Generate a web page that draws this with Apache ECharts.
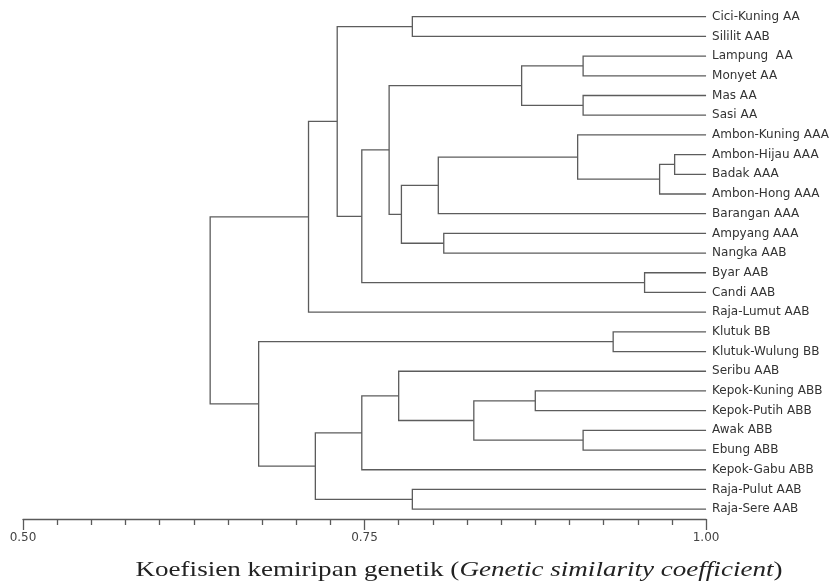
<!DOCTYPE html>
<html>
<head>
<meta charset="utf-8">
<script src="https://cdn.jsdelivr.net/npm/echarts@6/dist/echarts.min.js"></script>
<style>
html, body { margin: 0; background: #fff; }
#main { width: 832px; height: 588px; }
</style>
</head>
<body>
<div id="main"></div>
<script>
// leaf names, top to bottom
var leaves = [
	"Cici-Kuning AA", "Sililit AAB", "Lampung  AA", "Monyet AA", "Mas AA", "Sasi AA",
	"Ambon-Kuning AAA", "Ambon-Hijau AAA", "Badak AAA", "Ambon-Hong AAA", "Barangan AAA",
	"Ampyang AAA", "Nangka AAB", "Byar AAB", "Candi AAB", "Raja-Lumut AAB",
	"Klutuk BB", "Klutuk-Wulung BB", "Seribu AAB", "Kepok-Kuning ABB", "Kepok-Putih ABB",
	"Awak ABB", "Ebung ABB", "Kepok-Gabu ABB", "Raja-Pulut AAB", "Raja-Sere AAB"
];

// merge steps: leaves are 0..25, step k makes node 26+k
var mergeA   = [7,     26,    2,    4,    13,    16,    21,   6,     19,    28,    34,   11,    33,    0,     24,    38,    18,    35,    43,    42,    39,    45,    46,    31,     48];
var mergeB   = [8,     9,     3,    5,    14,    17,    22,   27,    20,    29,    32,   12,    10,    1,     25,    37,    36,    41,    30,    23,    44,    40,    15,    47,     49];
var mergeSim = [0.977, 0.966, 0.91, 0.91, 0.955, 0.932, 0.91, 0.906, 0.875, 0.865, 0.83, 0.808, 0.804, 0.785, 0.785, 0.777, 0.775, 0.768, 0.748, 0.748, 0.730, 0.714, 0.709, 0.6725, 0.637];

var xTicks = [0.5, 0.75, 1.0];

var nodeX = [], nodeY = [];
for (var i = 0; i < leaves.length; i++) {
	nodeX.push(1.0);
	nodeY.push(i);
}
var links = [];
for (var k = 0; k < mergeSim.length; k++) {
	var a = mergeA[k], b = mergeB[k];
	links.push([nodeX[a], nodeY[a], nodeX[b], nodeY[b], mergeSim[k]]);
	nodeX.push(mergeSim[k]);
	nodeY.push((nodeY[a] + nodeY[b]) / 2);
}

var chart = echarts.init(document.getElementById('main'));
chart.setOption({
	animation: false,
	grid: { left: 23, right: 125, top: 6.85, bottom: 69 },
	xAxis: {
		type: 'value',
		min: xTicks[0],
		max: xTicks[xTicks.length - 1],
		interval: 0.25,
		splitLine: { show: false },
		axisLine: { onZero: false, lineStyle: { color: '#5a5a5a', width: 1.3 } },
		axisTick: { length: 11, lineStyle: { color: '#5a5a5a', width: 1.3 } },
		minorTick: { show: true, splitNumber: 10, length: 6, lineStyle: { color: '#5a5a5a', width: 1.3 } },
		axisLabel: {
			margin: 13,
			fontSize: 12,
			color: '#444',
			fontFamily: 'DejaVu Sans',
			formatter: function(v) { return v.toFixed(2); }
		}
	},
	yAxis: [{
		type: 'category',
		data: leaves,
		inverse: true,
		position: 'right',
		axisLine: { show: false },
		axisTick: { show: false },
		axisLabel: {
			margin: 6,
			fontSize: 12,
			color: '#333',
			fontFamily: 'DejaVu Sans',
			padding: [0, 0, 9, 0]
		}
	}, {
		type: 'value',
		min: -0.5,
		max: leaves.length - 0.5,
		inverse: true,
		show: false
	}],
	// axis title, stretched like the source image
	graphic: [{
		type: 'text',
		x: 459,
		y: 570,
		scaleX: 1.23,
		style: {
			text: '{n|Koefisien kemiripan genetik (}{it|Genetic similarity coefficient}{n|)}',
			fontFamily: 'Liberation Serif',
			fontSize: 22,
			fill: '#222',
			align: 'center',
			verticalAlign: 'middle',
			rich: {
				n: { fontFamily: 'Liberation Serif', fontSize: 22, fontStyle: 'normal', fill: '#222' },
				it: { fontFamily: 'Liberation Serif', fontSize: 22, fontStyle: 'italic', fill: '#222' }
			}
		}
	}],
	series: [{
		type: 'custom',
		yAxisIndex: 1,
		clip: false,
		data: links,
		renderItem: function(params, api) {
			var p1 = api.coord([api.value(0), api.value(1)]);
			var p2 = api.coord([api.value(2), api.value(3)]);
			var xn = api.coord([api.value(4), api.value(1)])[0];
			return {
				type: 'polyline',
				shape: { points: [p1, [xn, p1[1]], [xn, p2[1]], p2] },
				style: { stroke: '#5c5c5c', lineWidth: 1.3, fill: null }
			};
		}
	}]
});
</script>
</body>
</html>
